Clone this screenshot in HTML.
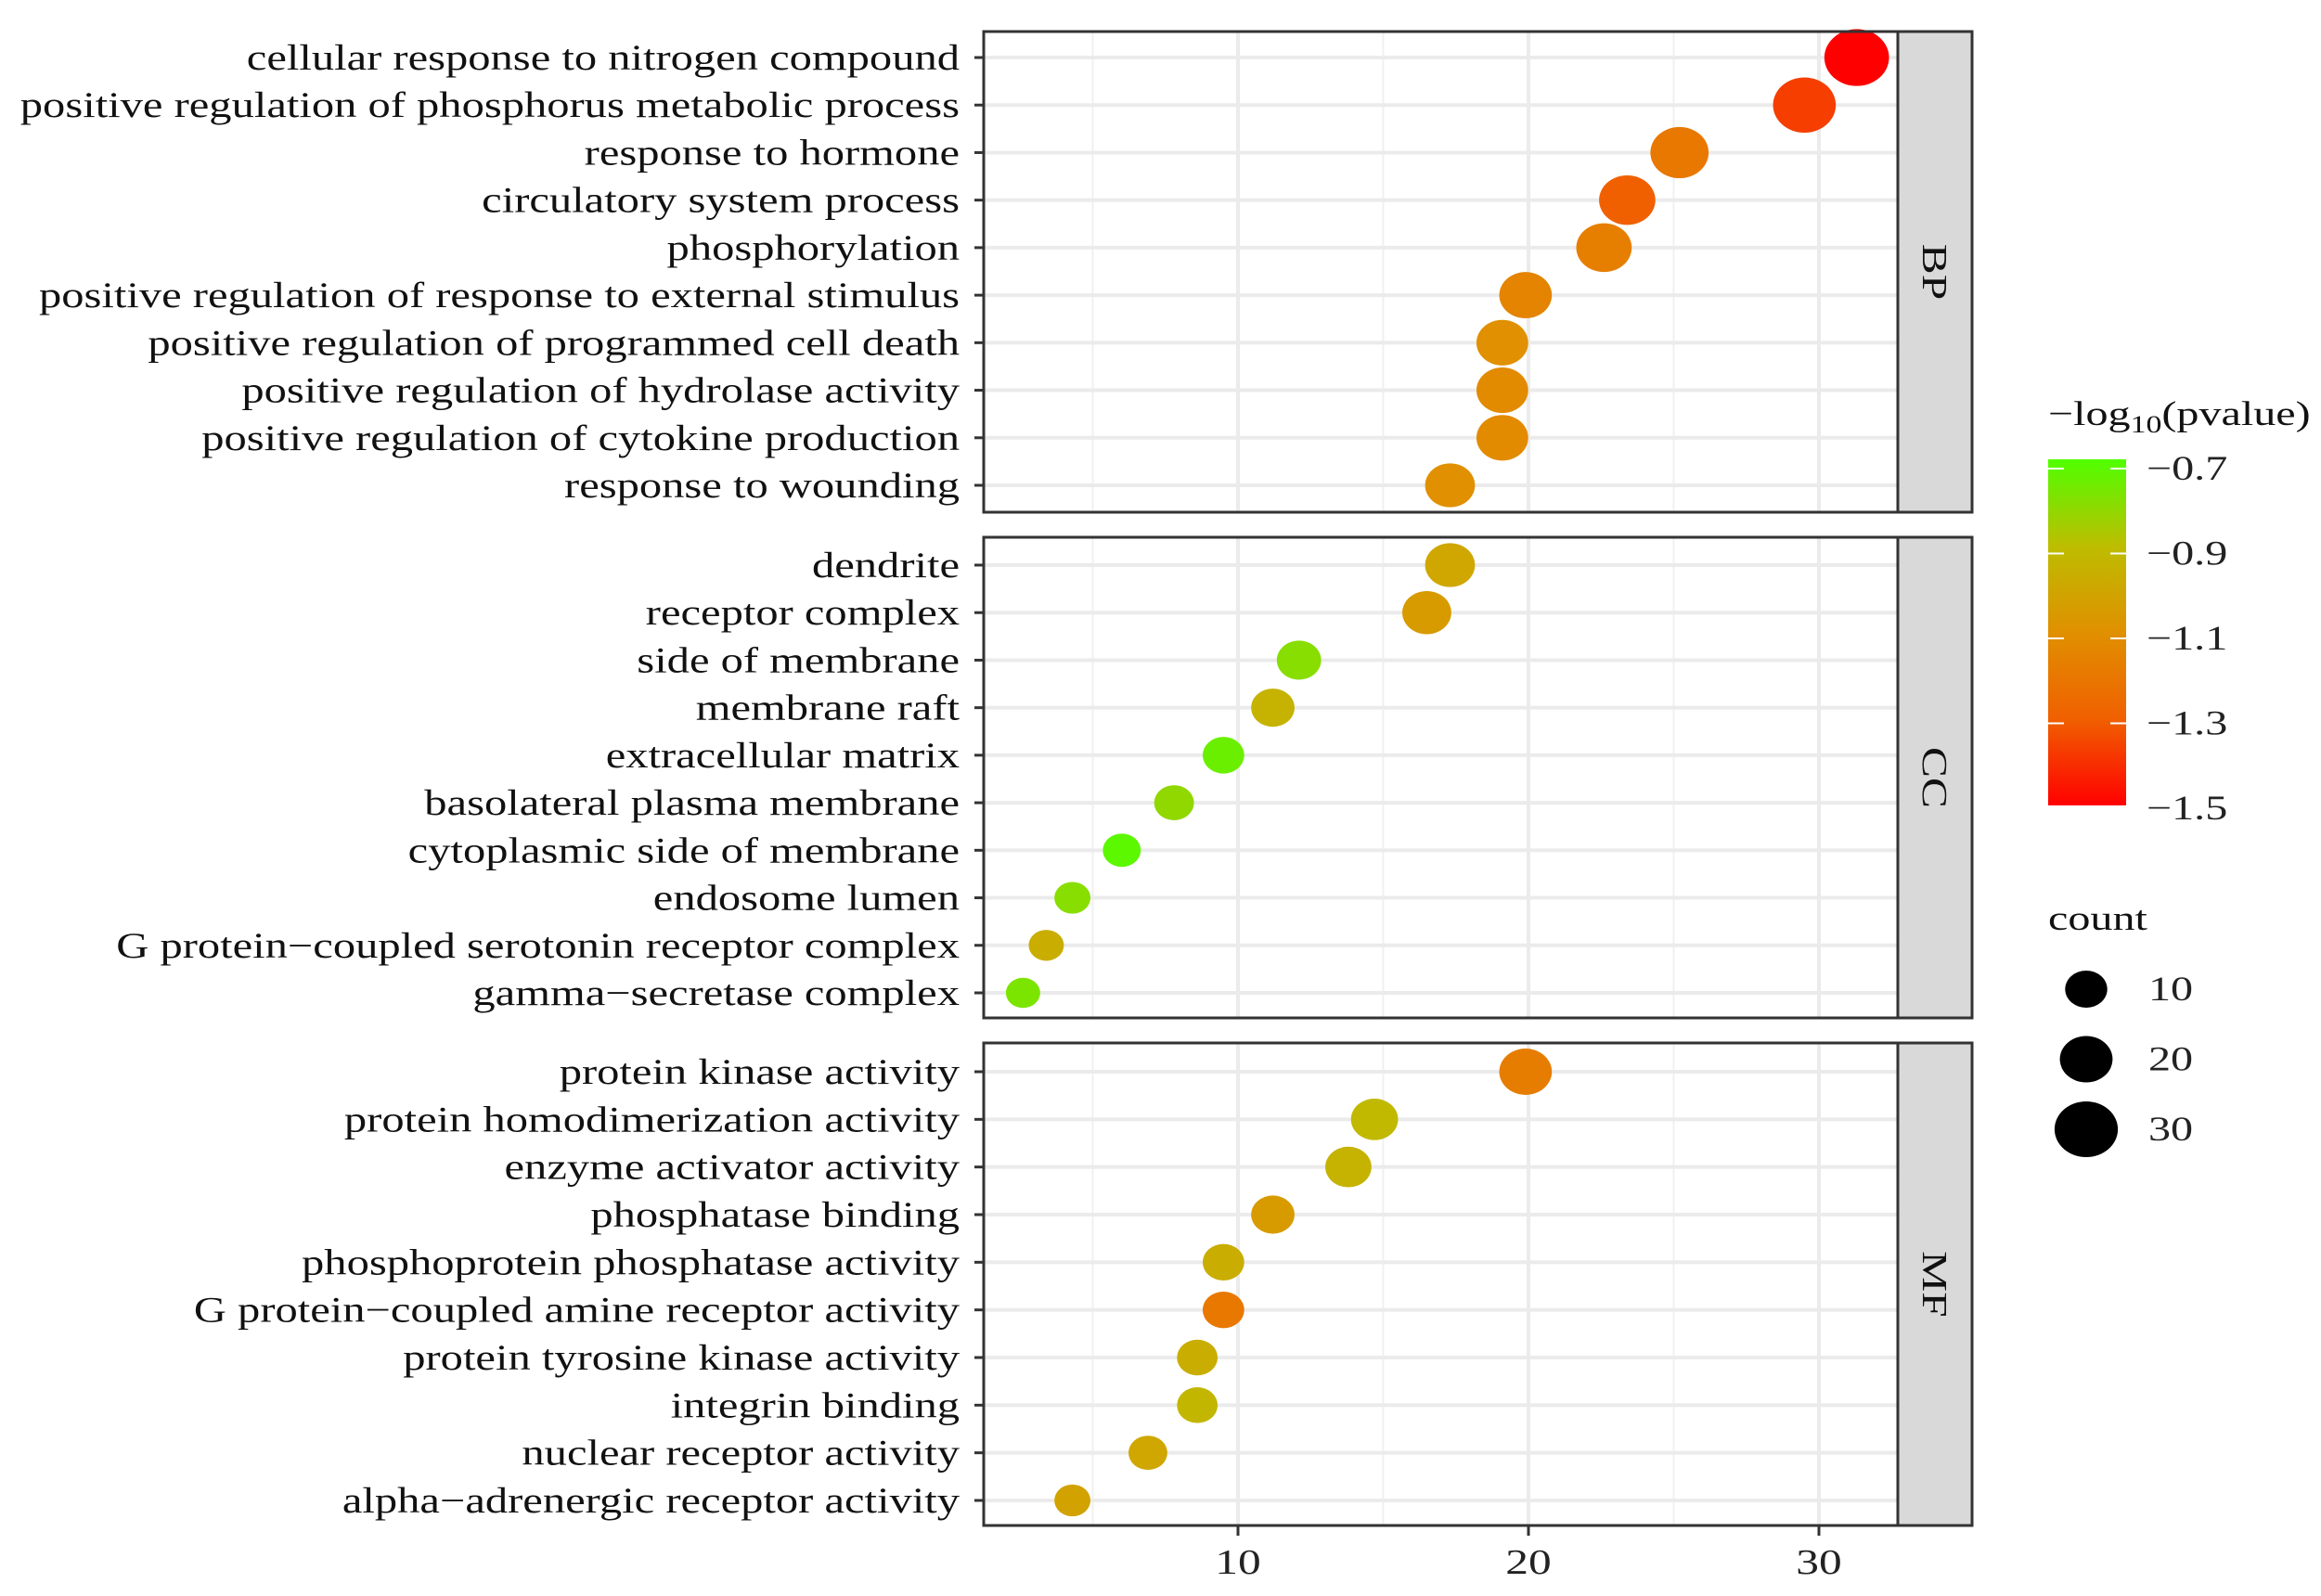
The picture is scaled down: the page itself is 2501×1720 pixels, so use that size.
<!DOCTYPE html>
<html><head><meta charset="utf-8"><style>
html,body{margin:0;padding:0;background:#fff;}
svg{display:block;font-family:"Liberation Serif",serif;}
</style></head><body>
<svg id="chart" width="2501" height="1720" viewBox="0 0 2501 1720" xmlns="http://www.w3.org/2000/svg"></svg>
<script>
const bpTerms=["cellular response to nitrogen compound","positive regulation of phosphorus metabolic process","response to hormone","circulatory system process","phosphorylation","positive regulation of response to external stimulus","positive regulation of programmed cell death","positive regulation of hydrolase activity","positive regulation of cytokine production","response to wounding"];
const bpCounts=[31.3,29.5,25.2,23.4,22.6,19.9,19.1,19.1,19.1,17.3];
const bpLogP=[-1.5,-1.37,-1.2,-1.3,-1.17,-1.15,-1.1,-1.12,-1.12,-1.1];
const ccTerms=["dendrite","receptor complex","side of membrane","membrane raft","extracellular matrix","basolateral plasma membrane","cytoplasmic side of membrane","endosome lumen","G protein\u2212coupled serotonin receptor complex","gamma\u2212secretase complex"];
const ccCounts=[17.3,16.5,12.1,11.2,9.5,7.8,6.0,4.3,3.4,2.6];
const ccLogP=[-1.0,-1.05,-0.8,-0.95,-0.75,-0.82,-0.72,-0.8,-0.97,-0.78];
const mfTerms=["protein kinase activity","protein homodimerization activity","enzyme activator activity","phosphatase binding","phosphoprotein phosphatase activity","G protein\u2212coupled amine receptor activity","protein tyrosine kinase activity","integrin binding","nuclear receptor activity","alpha\u2212adrenergic receptor activity"];
const mfCounts=[19.9,14.7,13.8,11.2,9.5,9.5,8.6,8.6,6.9,4.3];
const mfLogP=[-1.18,-0.92,-0.95,-1.05,-0.97,-1.2,-0.97,-0.93,-1.0,-1.02];
const xTicks=[10,20,30];
const colorTicks=[-0.7,-0.9,-1.1,-1.3,-1.5];
const sizeLegend=[10,20,30];

const svg=document.getElementById('chart');
const NS='http://www.w3.org/2000/svg';
function mk(tag,attrs,parent){const e=document.createElementNS(NS,tag);for(const k in attrs)e.setAttribute(k,attrs[k]);(parent||svg).appendChild(e);return e;}
function txt(x,y,attrs,parent,sx){attrs.x=0;attrs.y=0;attrs.transform=`translate(${x} ${y}) scale(${sx||1.3} 1)`;return mk('text',attrs,parent);}
const PL=1060,PR=2045,SR=2125;
function xs(v){return 1334+(v-10)*31.3;}
function rx(c){return 17+0.57*c;}
const stops=[[-1.5,[255,0,0]],[-1.3,[240,96,0]],[-1.1,[224,144,0]],[-0.9,[189,189,0]],[-0.7,[80,255,0]]];
function col(v){v=Math.max(-1.5,Math.min(-0.7,v));for(let i=0;i<stops.length-1;i++){const a=stops[i],b=stops[i+1];if(v<=b[0]){const t=(v-a[0])/(b[0]-a[0]);const c=a[1].map((x,j)=>Math.round(x+(b[1][j]-x)*t));return `rgb(${c[0]},${c[1]},${c[2]})`;}}return 'rgb(80,255,0)';}

const panels=[
 {name:'BP',terms:bpTerms,counts:bpCounts,logp:bpLogP,top:34,bot:552,y0:62,y1:523},
 {name:'CC',terms:ccTerms,counts:ccCounts,logp:ccLogP,top:579,bot:1097,y0:609,y1:1070},
 {name:'MF',terms:mfTerms,counts:mfCounts,logp:mfLogP,top:1124,bot:1644,y0:1155,y1:1617}];
panels.forEach(p=>{
 const g=mk('g',{});
 
 
 mk('rect',{x:PL,y:p.top,width:PR-PL,height:p.bot-p.top,fill:'#fff'},g);
 [5,15,25].forEach(v=>{const l=mk('line',{x1:xs(v),x2:xs(v),y1:p.top,y2:p.bot,stroke:'#f0f0f0','stroke-width':2},g);});
 xTicks.forEach(v=>{const l=mk('line',{x1:xs(v),x2:xs(v),y1:p.top,y2:p.bot,stroke:'#ebebeb','stroke-width':4},g);});
 const n=p.terms.length,step=(p.y1-p.y0)/(n-1);
 p.terms.forEach((t,i)=>{
  const y=p.y0+i*step;
  const gl=mk('line',{x1:PL,x2:PR,y1:y,y2:y,stroke:'#ebebeb','stroke-width':4},g);
  
  const tk=mk('line',{x1:PL-10,x2:PL,y1:y,y2:y,stroke:'#333','stroke-width':3},g);
  
  const tx=txt(PL-26,y+13,{'text-anchor':'end','font-size':39,fill:'#111'},g,1.245);
  tx.textContent=t;
  
 });
 p.terms.forEach((t,i)=>{
  const y=p.y0+i*step,r=rx(p.counts[i]);
  const e=mk('ellipse',{cx:xs(p.counts[i]),cy:y,rx:r,ry:r*0.88,fill:col(p.logp[i])},g);
  
 });
 mk('rect',{x:PL,y:p.top,width:PR-PL,height:p.bot-p.top,fill:'none',stroke:'#333','stroke-width':3},g);
 const s=mk('rect',{x:PR,y:p.top,width:SR-PR,height:p.bot-p.top,fill:'#d9d9d9',stroke:'#333','stroke-width':3},g);
 
 const cy=(p.top+p.bot)/2;
 const st=mk('text',{x:0,y:0,'text-anchor':'middle','font-size':38,fill:'#111',transform:`translate(2085 ${cy}) rotate(90) scale(1.3 1) translate(0 13)`},g);
 st.textContent=p.name;
 
});
xTicks.forEach(v=>{
 const t=mk('line',{x1:xs(v),x2:xs(v),y1:1644,y2:1655,stroke:'#333','stroke-width':3});
 
 const l=txt(xs(v),1696,{'text-anchor':'middle','font-size':38,fill:'#222'});
 l.textContent=v;
 
});
const defs=mk('defs',{});
const lg=mk('linearGradient',{id:'cg',x1:0,y1:0,x2:0,y2:1},defs);
[-0.7,-0.9,-1.1,-1.3,-1.5].forEach((v,i)=>mk('stop',{offset:(i/4),'stop-color':col(v)},lg));
const ttl=txt(2207,458,{'font-size':37,fill:'#111'});
ttl.innerHTML='\u2212log<tspan font-size="26" dy="8">10</tspan><tspan dy="-8">(pvalue)</tspan>';

const cb=mk('rect',{x:2207,y:495,width:84,height:373,fill:'url(#cg)'});

function cby(v){return 505+(-0.7-v)/0.8*(871-505);}
colorTicks.forEach(v=>{
 const y=cby(v);
 mk('line',{x1:2207,x2:2224,y1:y,y2:y,stroke:'#fff','stroke-width':2});
 mk('line',{x1:2274,x2:2291,y1:y,y2:y,stroke:'#fff','stroke-width':2});
 const t=txt(2313,y+12,{'font-size':37,fill:'#222'});
 t.textContent=(v<0?'\u2212':'')+Math.abs(v).toFixed(1);
 
});
const ct=txt(2207,1002,{'font-size':37,fill:'#111'});
ct.textContent='count';

sizeLegend.forEach((c,i)=>{
 const y=1066+i*75.5,r=rx(c);
 const e=mk('ellipse',{cx:2248,cy:y,rx:r,ry:r*0.88,fill:'#000'});
 
 const t=txt(2315,y+12,{'font-size':37,fill:'#222'});
 t.textContent=c;
 
});
</script>
</body></html>
